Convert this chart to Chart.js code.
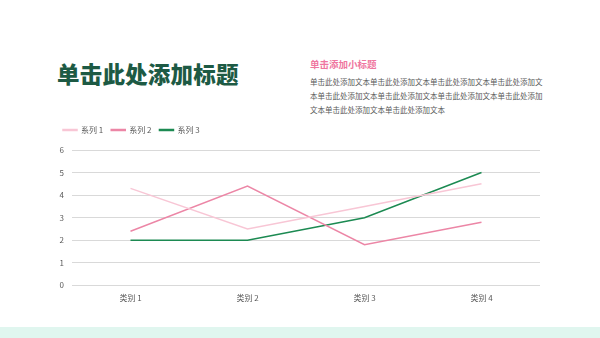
<!DOCTYPE html>
<html><head><meta charset="utf-8">
<script src="https://cdn.jsdelivr.net/npm/chart.js@4/dist/chart.umd.min.js"></script>
<style>
html,body{margin:0;padding:0;background:#fff;width:600px;height:338px;overflow:hidden;font-family:"Noto Sans CJK SC","Noto Sans",sans-serif;}
#title{position:absolute;left:57px;top:57px;font-size:22.5px;font-weight:900;color:#1d5a44;white-space:nowrap;letter-spacing:0.2px;}
#sub{position:absolute;left:310px;top:57px;font-size:9.5px;font-weight:700;color:#ef76a0;white-space:nowrap;}
#body{position:absolute;left:310px;top:75px;font-size:7.5px;line-height:14px;color:#595959;white-space:nowrap;}
#band{position:absolute;left:0;top:327px;width:600px;height:11px;background:#e0f6ef;}
#wrap{position:absolute;left:0;top:118px;width:540px;height:185px;}
</style></head><body>
<div id="title">单击此处添加标题</div>
<div id="sub">单击添加小标题</div>
<div id="body">单击此处添加文本单击此处添加文本单击此处添加文本单击此处添加文<br>本单击此处添加文本单击此处添加文本单击此处添加文本单击此处添加<br>文本单击此处添加文本单击此处添加文本</div>
<div id="band"></div>
<div id="wrap"><canvas id="c"></canvas></div>
<script>
const categories = ["类别 1","类别 2","类别 3","类别 4"];
const series1 = [4.3, 2.5, 3.5, 4.5];
const series2 = [2.4, 4.4, 1.8, 2.8];
const series3 = [2, 2, 3, 5];
const seriesNames = ["系列 1","系列 2","系列 3"];
const yTicks = [0,1,2,3,4,5,6];

const font = {family:'"Noto Sans CJK SC","Noto Sans",sans-serif', size:8};
const legendGap = {id:'legendGap', beforeInit(chart){
  const lg = chart.legend; const orig = lg.fit;
  lg.fit = function(){ orig.call(this); this.height += 6; };
}};
new Chart(document.getElementById('c'), {
  type:'line',
  data:{
    labels:categories,
    datasets:[
      {label:seriesNames[0],data:series1,borderColor:'#f8c6d5',backgroundColor:'#f8c6d5',borderWidth:1.5,pointRadius:0,tension:0},
      {label:seriesNames[1],data:series2,borderColor:'#ec86a6',backgroundColor:'#ec86a6',borderWidth:1.5,pointRadius:0,tension:0},
      {label:seriesNames[2],data:series3,borderColor:'#1c8a52',backgroundColor:'#1c8a52',borderWidth:1.5,pointRadius:0,tension:0}
    ]
  },
  plugins:[legendGap],
  options:{
    responsive:true,maintainAspectRatio:false,animation:false,
    layout:{padding:{left:55,right:0,top:0,bottom:0}},
    plugins:{
      legend:{display:true,position:'top',align:'start',
        labels:{usePointStyle:false,boxWidth:14,boxHeight:1,padding:8,color:'#595959',font:font}},
      tooltip:{enabled:false}
    },
    scales:{
      x:{offset:true,grid:{display:false,offset:true},border:{display:false},
        ticks:{color:'#595959',font:font,padding:0}},
      y:{min:0,max:6,afterBuildTicks:(s)=>{s.ticks=yTicks.map(v=>({value:v}));},
        afterFit:(s)=>{s.width=17;},
        grid:{color:'#d9d9d9',lineWidth:1,drawTicks:false},border:{display:false},
        ticks:{color:'#595959',font:font,padding:8}}
    }
  }
});
</script>
</body></html>
